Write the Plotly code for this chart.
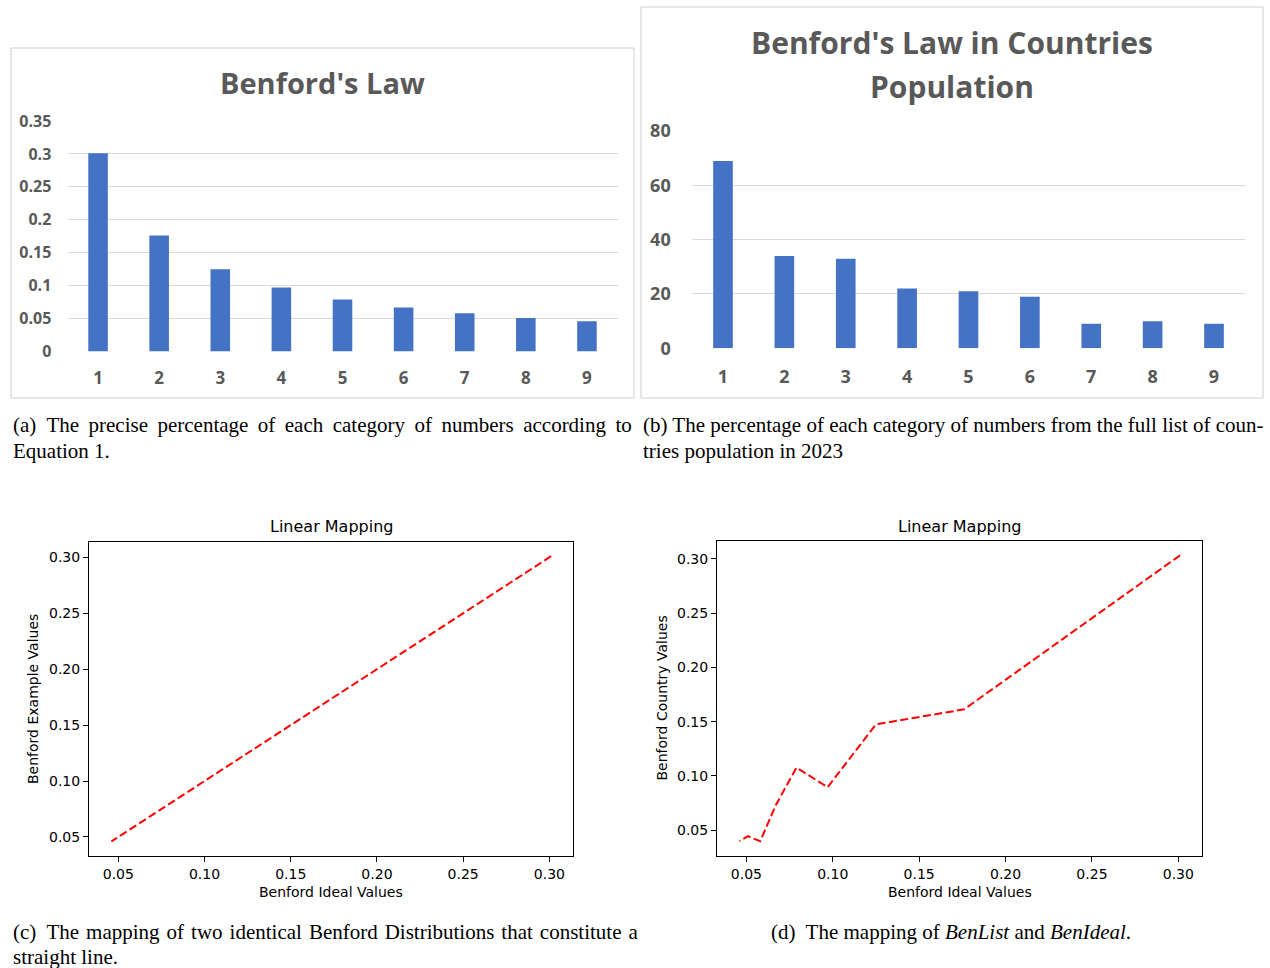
import plotly.graph_objects as go

W, H = 1270, 968

# ---- data -------------------------------------------------------------
digits = [1, 2, 3, 4, 5, 6, 7, 8, 9]
digit_labels = ["1", "2", "3", "4", "5", "6", "7", "8", "9"]

# Benford's law share of each leading digit (Equation 1)
benford_ideal = [0.301, 0.176, 0.125, 0.097, 0.079, 0.067, 0.058, 0.051, 0.046]

# number of countries (2023 population) per leading digit
country_counts = [69, 34, 33, 22, 21, 19, 9, 10, 9]

# observed country share per leading digit, paired with benford_ideal
country_share = [0.3031, 0.1613, 0.1475, 0.0896, 0.1077, 0.0730, 0.0399, 0.0445, 0.0400]

a_tickvals = [0, 0.05, 0.10, 0.15, 0.20, 0.25, 0.30, 0.35]
a_ticktext = ["0", "0.05", "0.1", "0.15", "0.2", "0.25", "0.3", "0.35"]
b_tickvals = [0, 20, 40, 60, 80]
map_ticks = [0.05, 0.10, 0.15, 0.20, 0.25, 0.30]

# ---- styling helpers ---------------------------------------------------
BAR_BLUE = "#4472C4"
XL_TEXT = "#595959"
XL_GRID = "#d9d9d9"
XL_FONT = "Open Sans"
MPL_FONT = "DejaVu Sans"
SERIF = "Liberation Serif"
THIN = "\u2009"
HAIR = "\u200a"


def xdom(left, right):
    return [left / W, right / W]


def ydom(top, bottom):
    return [1 - bottom / H, 1 - top / H]


def px(x):
    return x / W


def py(y):
    return 1 - y / H


def spread(s, pad):
    # widen every word gap by an extra narrow space (justified caption line)
    return s.replace(" ", " " + pad)


fig = go.Figure()

# (a) Benford's law bars
fig.add_trace(go.Bar(x=digits, y=benford_ideal, marker=dict(color=BAR_BLUE, line=dict(width=0)),
                     width=0.32, xaxis="x", yaxis="y", showlegend=False))
# (b) country population bars
fig.add_trace(go.Bar(x=digits, y=country_counts, marker=dict(color=BAR_BLUE, line=dict(width=0)),
                     width=0.32, xaxis="x2", yaxis="y2", showlegend=False))
# (c) ideal against itself
fig.add_trace(go.Scatter(x=benford_ideal, y=benford_ideal, mode="lines",
                         line=dict(color="#ff0000", width=2, dash="8px,3.5px"),
                         xaxis="x3", yaxis="y3", showlegend=False))
# (d) ideal against country data
fig.add_trace(go.Scatter(x=benford_ideal, y=country_share, mode="lines",
                         line=dict(color="#ff0000", width=2, dash="8px,3.5px"),
                         xaxis="x4", yaxis="y4", showlegend=False))

xl_x = dict(tickmode="array", tickvals=digits, ticktext=digit_labels, range=[0.5, 9.5],
            showgrid=False, zeroline=False, showline=False, ticks="outside",
            tickcolor="rgba(0,0,0,0)", fixedrange=True, automargin=False,
            tickfont=dict(family=XL_FONT, size=17, color=XL_TEXT, weight="bold"))
xl_y = dict(showgrid=True, gridcolor=XL_GRID, gridwidth=1, zeroline=False, showline=False,
            ticks="outside", tickcolor="rgba(0,0,0,0)", fixedrange=True, automargin=False,
            tickfont=dict(family=XL_FONT, size=16, color=XL_TEXT, weight="bold"))

mpl_axis = dict(showline=True, mirror=True, linecolor="black", linewidth=1,
                ticks="outside", ticklen=5, tickwidth=1, tickcolor="black",
                showgrid=False, zeroline=False, tickmode="array", tickvals=map_ticks,
                tickformat=".2f", fixedrange=True, automargin=False,
                tickfont=dict(family=MPL_FONT, size=14, color="black"))

fig.update_layout(
    width=W, height=H, margin=dict(l=0, r=0, t=0, b=0, pad=0),
    paper_bgcolor="white", plot_bgcolor="rgba(0,0,0,0)",
    xaxis=dict(xl_x, domain=xdom(67.5, 617.5), anchor="y", ticklen=11),
    yaxis=dict(xl_y, domain=ydom(121, 351.5), anchor="x", range=[0, 0.35],
               tickmode="array", tickvals=a_tickvals, ticktext=a_ticktext, ticklen=12),
    xaxis2=dict(xl_x, domain=xdom(692.3, 1244.7), anchor="y2", ticklen=12,
                tickfont=dict(family=XL_FONT, size=18, color=XL_TEXT, weight="bold")),
    yaxis2=dict(xl_y, domain=ydom(131, 348.3), anchor="x2", range=[0, 80],
                tickmode="array", tickvals=b_tickvals, ticklen=17,
                tickfont=dict(family=XL_FONT, size=18, color=XL_TEXT, weight="bold")),
    xaxis3=dict(mpl_axis, domain=xdom(89, 573), anchor="y3", range=[0.0330, 0.3137]),
    yaxis3=dict(mpl_axis, domain=ydom(542, 856), anchor="x3", range=[0.0330, 0.3137]),
    xaxis4=dict(mpl_axis, domain=xdom(717, 1202), anchor="y4", range=[0.0330, 0.3137]),
    yaxis4=dict(mpl_axis, domain=ydom(541, 856), anchor="x4", range=[0.0263, 0.3163]),
)

# chart-area frames of the two bar charts
for (x0, y0, x1, y1) in [(11, 48, 634, 398), (641, 7, 1263, 398)]:
    fig.add_shape(type="rect", xref="paper", yref="paper",
                  x0=px(x0), x1=px(x1), y0=py(y1), y1=py(y0),
                  line=dict(color="#cfcfcf", width=1), fillcolor="rgba(0,0,0,0)")

ann = []


def text(x, y, s, size, family, color="black", xanchor="center", weight="normal", angle=0):
    ann.append(dict(x=px(x), y=py(y), xref="paper", yref="paper", text=s, showarrow=False,
                    xanchor=xanchor, yanchor="middle", textangle=angle,
                    font=dict(family=family, size=size, color=color, weight=weight)))


# bar chart titles
text(322.5, 82, "Benford's Law", 29, XL_FONT, XL_TEXT, weight="bold")
text(952, 42, "Benford's Law in Countries", 30, XL_FONT, XL_TEXT, weight="bold")
text(952, 87, "Population", 30, XL_FONT, XL_TEXT, weight="bold")

# line chart titles and axis labels
text(331, 526, "Linear Mapping", 16, MPL_FONT)
text(959.5, 526, "Linear Mapping", 16, MPL_FONT)
text(331, 892, "Benford Ideal Values", 14, MPL_FONT)
text(959.5, 892, "Benford Ideal Values", 14, MPL_FONT)
text(33, 699, "Benford Example Values", 14, MPL_FONT, angle=-90)
text(661, 698.5, "Benford Country Values", 14, MPL_FONT, angle=-90)

# captions
CAP = 21
text(11, 425, "(a)  " + spread("The precise percentage of each category of numbers according to", THIN),
     CAP, SERIF, xanchor="left")
text(11, 451, "Equation 1.", CAP, SERIF, xanchor="left")
text(641, 425, "(b) The percentage of each category of numbers from the full list of coun-",
     CAP, SERIF, xanchor="left")
text(641, 451, "tries population in 2023", CAP, SERIF, xanchor="left")
text(11, 932, "(c)  " + spread("The mapping of two identical Benford Distributions that constitute a", HAIR),
     CAP, SERIF, xanchor="left")
text(11, 957, "straight line.", CAP, SERIF, xanchor="left")
text(951, 932, "(d)  The mapping of <i>BenList</i> and <i>BenIdeal</i>.", CAP, SERIF)

fig.update_layout(annotations=ann)

fig.write_html("out.html")
